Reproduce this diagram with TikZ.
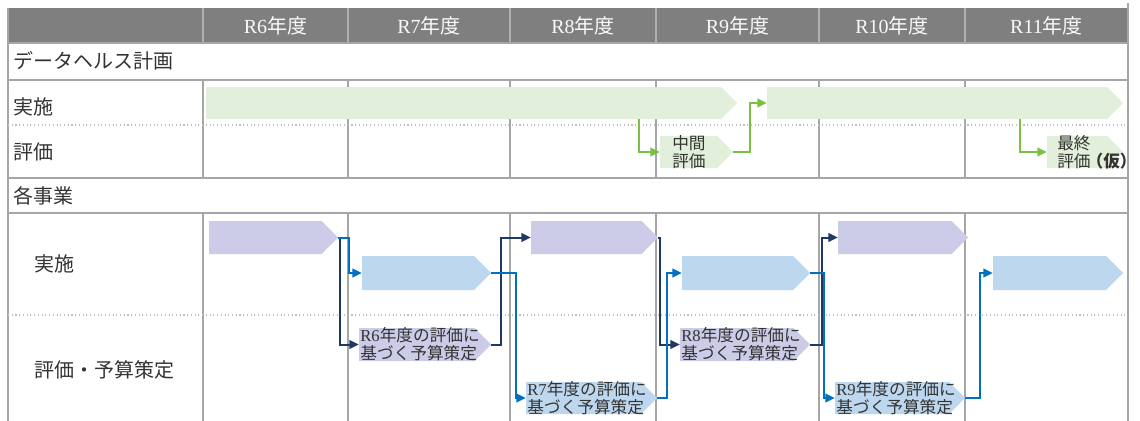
\documentclass[tikz,border=0pt]{standalone}
\usepackage{fontspec}
\setmainfont{Liberation Serif}
\newfontfamily\jp{Noto Sans CJK JP}
\usetikzlibrary{arrows.meta,fit}
\definecolor{hdr}{HTML}{7F7F7F}
\definecolor{hdrsep}{HTML}{B0B0B0}
\definecolor{gridc}{HTML}{A6A6A6}
\definecolor{dotc}{HTML}{BFBFBF}
\definecolor{gbar}{HTML}{E2EFDA}
\definecolor{garr}{HTML}{7AC143}
\definecolor{pbar}{HTML}{CCCCE8}
\definecolor{bbar}{HTML}{BDD7EE}
\definecolor{navy}{HTML}{1F3864}
\definecolor{blu}{HTML}{0070C0}
\definecolor{txt}{HTML}{333333}
\newcommand\arrshape[6]{%
  \fill[#6] (#2,#3) -- ({#4-(#5-#3)/2},#3) -- (#4,{(#3+#5)/2}) -- ({#4-(#5-#3)/2},#5) -- (#2,#5) -- cycle;
  \node[fit={(#2,#3) (#4,#5)}, inner sep=0pt] (#1) {};
}
\tikzset{
  gridline/.style={draw=gridc, line width=1.1pt},
  dotline/.style={draw=dotc, line width=0.8pt, dotted},
  hdrtxt/.style={text=white!95!gray, font=\fontsize{15pt}{18pt}\selectfont, inner sep=0pt},
  rowlbl/.style={text=txt, font=\fontsize{15pt}{18pt}\selectfont\jp, inner sep=0pt, anchor=west},
  boxtxt/.style={text=txt, align=left, inner sep=0pt, anchor=west, font=\fontsize{12.5pt}{13.3pt}\selectfont},
  conn/.style={line width=1.5pt, -{Triangle[length=7pt,width=6.5pt]}},
  gconn/.style={conn, draw=garr, line width=1.3pt},
  nconn/.style={conn, draw=navy},
  bconn/.style={conn, draw=blu}
}
\begin{document}
\begin{tikzpicture}[x=0.75pt, y=-0.75pt]
\useasboundingbox (0,0) rectangle (1140,421);
% header
\fill[hdr] (8,8) rectangle (1128,43);
\foreach \x in {203,348,510,656,819,965} \draw[draw=hdrsep, line width=1.1pt] (\x,8) -- (\x,43);
% grid
\draw[gridline] (8,43) -- (1128,43);
\draw[gridline] (8,80) -- (1128,80);
\draw[gridline] (8,178) -- (1128,178);
\draw[gridline] (8,213) -- (1128,213);
\draw[gridline] (8,8) -- (8,421);
\draw[gridline] (1128,3) -- (1128,421);
\foreach \x in {203,348,510,656,819,965} {
  \draw[gridline] (\x,80) -- (\x,178);
  \draw[gridline] (\x,213) -- (\x,421);
}
\draw[dotline] (8,125) -- (1128,125);
\draw[dotline] (8,315) -- (1128,315);
% header texts
\node[hdrtxt] (h6) at (275.5,26) {R6{\jp 年度}};
\node[hdrtxt] (h7) at (429,26) {R7{\jp 年度}};
\node[hdrtxt] (h8) at (583,26) {R8{\jp 年度}};
\node[hdrtxt] (h9) at (737.5,26) {R9{\jp 年度}};
\node[hdrtxt] (h10) at (892,26) {R10{\jp 年度}};
\node[hdrtxt] (h11) at (1046.5,26) {R11{\jp 年度}};
% row labels
\node[rowlbl] (r1) at (13,61) {データヘルス計画};
\node[rowlbl] (r2) at (13,107) {実施};
\node[rowlbl] (r3) at (13,152) {評価};
\node[rowlbl] (r4) at (13,196) {各事業};
\node[rowlbl] (r5) at (34,264) {実施};
\node[rowlbl] (r6) at (34,370) {評価・予算策定};
% upper bars
\arrshape{bar1}{206}{87}{737}{119}{gbar}
\arrshape{bar2}{767}{87}{1123}{119}{gbar}
\arrshape{mid}{660}{136}{733}{168}{gbar}
\arrshape{fin}{1047}{136}{1123}{168}{gbar}
\node[boxtxt] (midt) at (672,152) {{\jp 中間}\\{\jp 評価}};
\node[boxtxt] (fint) at (1057,152) {{\jp 最終}\\{\jp 評価\kern-3pt\bfseries （仮）\kern-5pt}};
% lower bars
\arrshape{P6}{209}{221}{338}{254}{pbar}
\arrshape{B7}{362}{256}{491}{290}{bbar}
\arrshape{L6}{359}{328}{491}{361}{pbar}
\arrshape{P8}{531}{221}{658}{254}{pbar}
\arrshape{L7}{526}{382}{657}{414}{bbar}
\arrshape{B9}{682}{256}{810}{290}{bbar}
\arrshape{L8}{680}{328}{810}{361}{pbar}
\arrshape{P10}{838}{221}{968}{254}{pbar}
\arrshape{L9}{835}{382}{965}{414}{bbar}
\arrshape{B11}{993}{256}{1123}{290}{bbar}
\node[boxtxt] (L6t) at ([xshift=1pt]L6.west) {R6{\jp 年度の評価に}\\{\jp 基づく予算策定}};
\node[boxtxt] (L7t) at ([xshift=1pt]L7.west) {R7{\jp 年度の評価に}\\{\jp 基づく予算策定}};
\node[boxtxt] (L8t) at ([xshift=1pt]L8.west) {R8{\jp 年度の評価に}\\{\jp 基づく予算策定}};
\node[boxtxt] (L9t) at ([xshift=1pt]L9.west) {R9{\jp 年度の評価に}\\{\jp 基づく予算策定}};
% green connectors
\coordinate (g1) at (639,0);
\coordinate (g3) at (1020,0);
\draw[gconn] (bar1.south -| g1) |- (mid.west);
\draw[gconn] (mid.east) -- ++(17,0) |- (bar2.west);
\draw[gconn] (bar2.south -| g3) |- (fin.west);
% lower connectors
\draw[nconn] (P6.east) -- ++(2,0) |- (L6.west);
\draw[bconn] (P6.east) -- ++(11,0) |- (B7.west);
\draw[nconn] (L6.east) -- ++(10,0) |- (P8.west);
\draw[bconn] (B7.east) -- ++(25,0) |- (L7.west);
\draw[nconn] (P8.east) -- ++(2,0) |- (L8.west);
\draw[bconn] (L7.east) -- ++(10,0) |- (B9.west);
\draw[nconn] (L8.east) -- ++(12,0) |- (P10.west);
\draw[bconn] (B9.east) -- ++(14,0) |- (L9.west);
\draw[bconn] (L9.east) -- ++(15,0) |- (B11.west);
\end{tikzpicture}
\end{document}
